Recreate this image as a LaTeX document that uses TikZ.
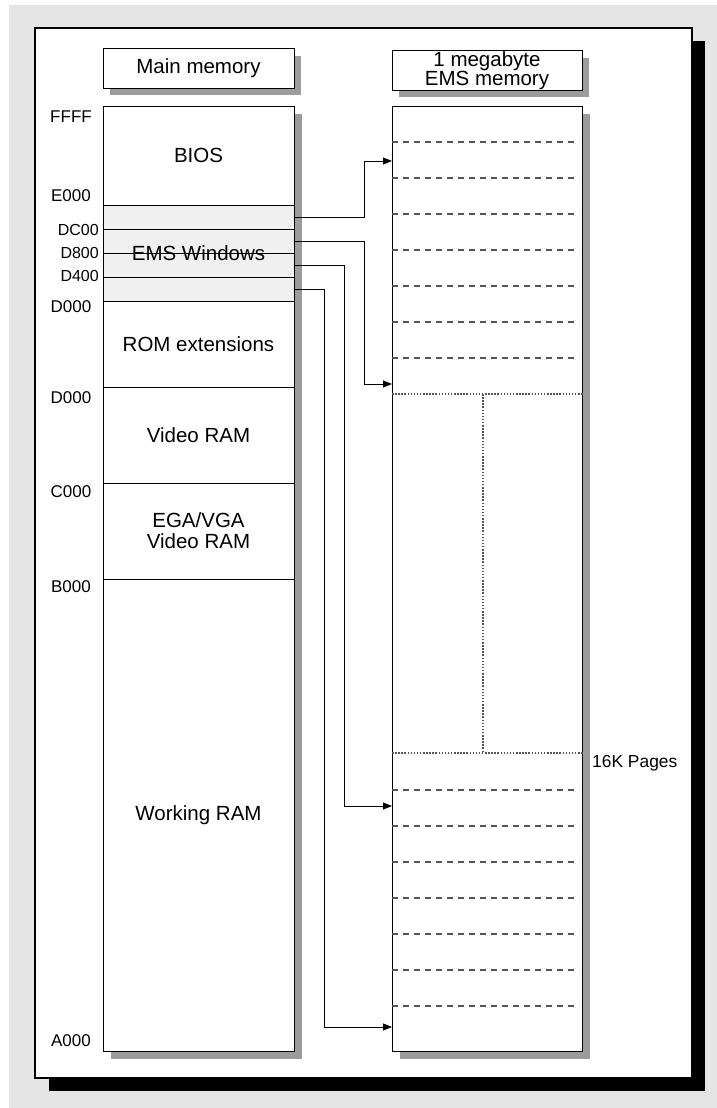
\documentclass[tikz,border=0pt]{standalone}
\usepackage{fontspec}
\setmainfont{Liberation Sans}
\usetikzlibrary{shadows,arrows.meta}

\definecolor{bggray}{HTML}{E5E5E5}
\definecolor{shadegray}{HTML}{9C9C9C}
\definecolor{winfill}{HTML}{F0F0F0}
\definecolor{pagegray}{HTML}{555555}

\begin{document}
\begin{tikzpicture}[x=1pt,y=-1pt,
   box/.style={draw,fill=white,line width=1pt,inner sep=0pt,
     drop shadow={shadow xshift=7pt,shadow yshift=-7pt,fill=shadegray,opacity=1}},
   win/.style={draw,fill=winfill,line width=1pt,inner sep=0pt,
     minimum width=191pt,minimum height=24pt,anchor=north west},
   big/.style={font=\fontsize{20.5}{21}\selectfont,inner sep=0pt},
   addr/.style={font=\fontsize{17}{17}\selectfont,inner sep=0pt},
   subaddr/.style={font=\fontsize{16}{16}\selectfont,inner sep=0pt,anchor=east},
   page/.style={pagegray,line width=1.1pt,dash pattern=on 6pt off 5pt},
   bank/.style={pagegray,line width=1.1pt,dash pattern=on 1.5pt off 1.6pt},
   conn/.style={line width=1pt,-{Triangle[length=9pt,width=7pt]}}]
   \useasboundingbox (0,0) rectangle (717,1108);

   % frame
   \fill[bggray] (9,5) rectangle (717,1108);
   \fill[black] (49,41) rectangle (705,1091);
   \draw[fill=white,line width=1.2pt] (35,28) rectangle (692,1078);

   % titles
   \node[box,big,minimum width=191pt,minimum height=39pt] (maintitle) at (198.5,68.5) {Main memory};
   \node[box,big,align=center,minimum width=190pt,minimum height=39pt,
     font=\fontsize{20.5}{19}\selectfont] (emstitle) at (487,70.5) {1 megabyte\\EMS memory};

   % main memory
   \node[box,minimum width=191pt,minimum height=945pt,anchor=north west] (main) at (103,106) {};
   \foreach \i/\y in {1/205,2/229,3/253,4/277}
      \node[win] (win\i) at (103,\y) {};
   \foreach \y in {387,483,579}
      \draw[line width=1pt] (main.west |- 0,\y) -- (main.east |- 0,\y);
   \node[big] (bios) at (198.5,155) {BIOS};
   \node[big] (emswin) at (198.5,253) {EMS Windows};
   \node[big] (rom) at (198.5,344) {ROM extensions};
   \node[big] (video) at (198.5,435) {Video RAM};
   \node[big,align=center] (ega) at (198.5,531) {EGA/VGA\\Video RAM};
   \node[big] (work) at (198.5,815) {Working RAM};

   % addresses
   \foreach \t/\y in {FFFF/117,E000/196,D000/307,D000/398,C000/492,B000/587,A000/1041}
      \node[addr] (addr\y) at (71,\y) {\t};
   \foreach \t/\y in {DC00/230,D800/253,D400/276}
      \node[subaddr] (addr\y) at (99,\y) {\t};

   % EMS memory
   \node[box,minimum width=190pt,minimum height=945pt,anchor=north west] (ems) at (392,106) {};
   \foreach \y in {142,178,...,358}
      \draw[page] (392,\y) -- (579,\y);
   \foreach \y in {790,826,...,1006}
      \draw[page] (392,\y) -- (579,\y);
   \draw[bank] (ems.west |- 0,394) -- (ems.east |- 0,394);
   \draw[bank] (ems.west |- 0,753) -- (ems.east |- 0,753);
   \draw[bank] (483,394) -- (483,753);
   \node[addr,anchor=west,font=\fontsize{17.4}{17}\selectfont] (pages) at (592,763) {16K Pages};

   % mapping arrows
   \coordinate (t1) at (ems.west |- 0,161);
   \coordinate (t2) at (ems.west |- 0,384);
   \coordinate (t3) at (ems.west |- 0,806);
   \coordinate (t4) at (ems.west |- 0,1027);
   \draw[conn] (win1.east) -- ++(69,0) |- (t1);
   \draw[conn] (win2.east) -- ++(69,0) |- (t2);
   \draw[conn] (win3.east) -- ++(49,0) |- (t3);
   \draw[conn] (win4.east) -- ++(29,0) |- (t4);
\end{tikzpicture}
\end{document}
